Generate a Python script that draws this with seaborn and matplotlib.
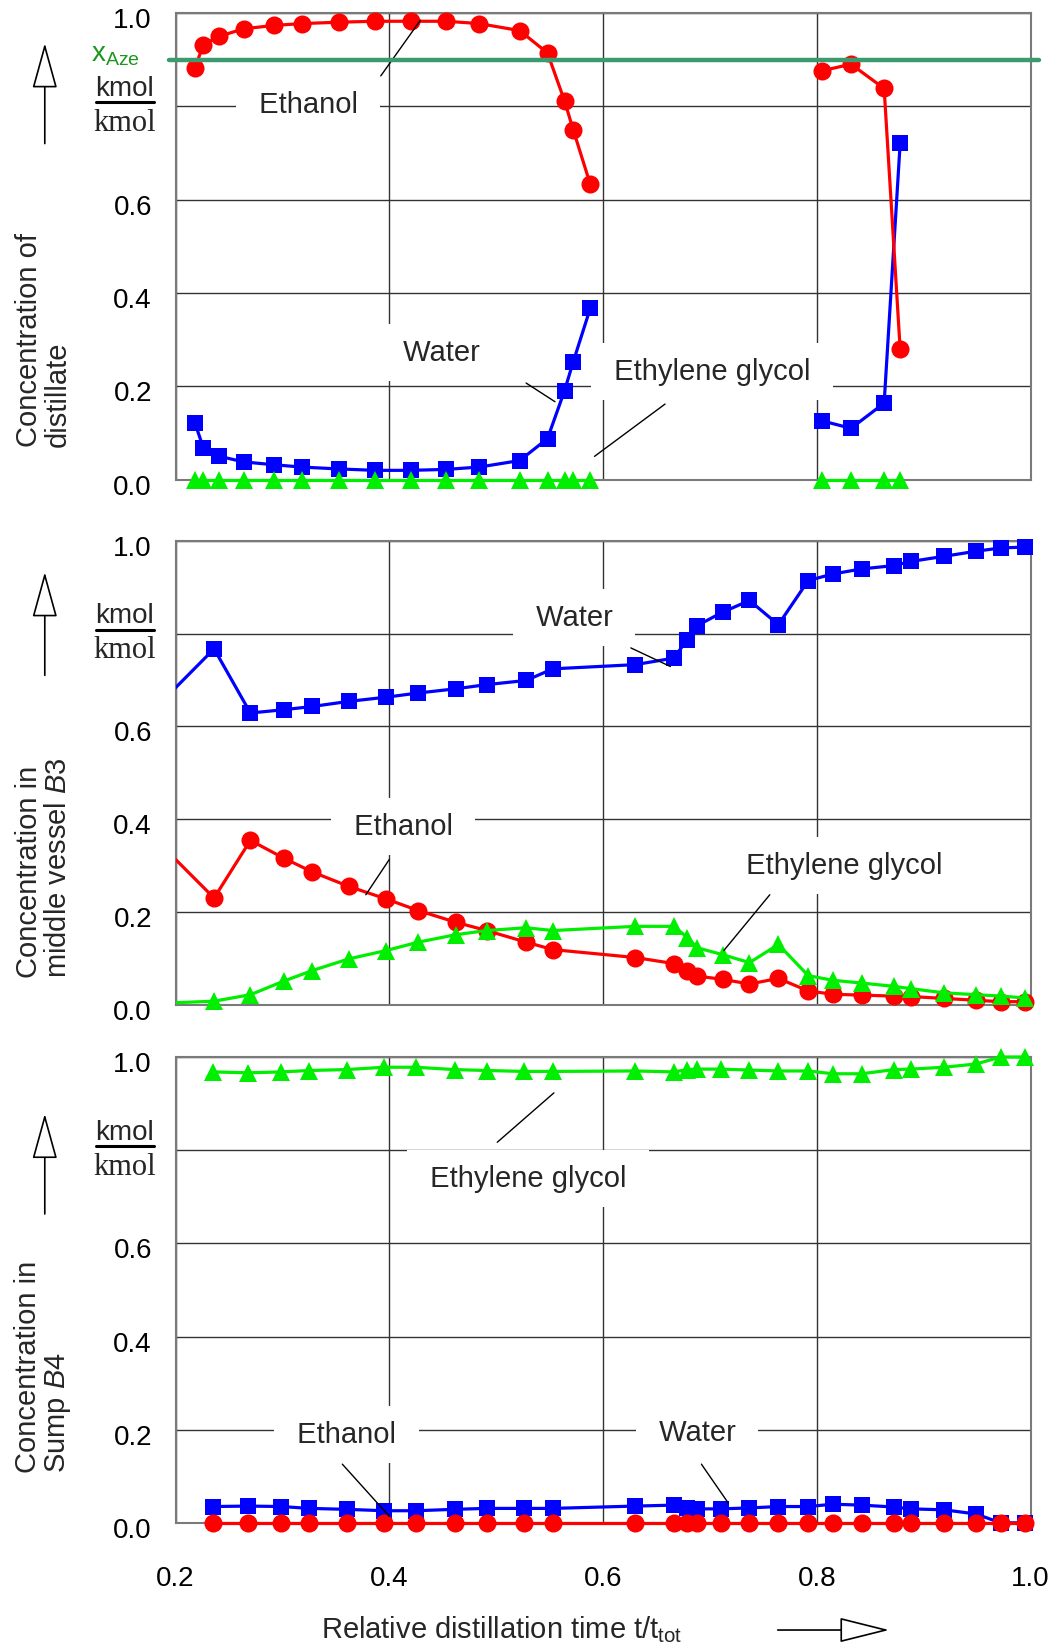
import numpy as np
import pandas as pd
import matplotlib
matplotlib.use("Agg")
import matplotlib.pyplot as plt
from matplotlib.patches import Rectangle
from matplotlib.lines import Line2D
from matplotlib.transforms import ScaledTranslation
import seaborn as sns

# ---- distillate (top panel), two separate runs ----
dist_time_a = [0.218, 0.226, 0.241, 0.264, 0.292, 0.318, 0.353, 0.387, 0.420, 0.453,
               0.484, 0.522, 0.548, 0.564, 0.572, 0.588]
dist_ethanol_a = [0.881, 0.932, 0.950, 0.966, 0.973, 0.977, 0.980, 0.982, 0.982, 0.982,
                  0.977, 0.962, 0.914, 0.811, 0.750, 0.633]
dist_water_a = [0.122, 0.068, 0.050, 0.038, 0.032, 0.027, 0.023, 0.020, 0.020, 0.022,
                0.027, 0.041, 0.088, 0.191, 0.252, 0.367]
dist_glycol_a = [0.0, 0.0, 0.0, 0.0, 0.0, 0.0, 0.0, 0.0, 0.0, 0.0,
                 0.0, 0.0, 0.0, 0.0, 0.0, 0.0]
dist_time_b = [0.805, 0.832, 0.863, 0.878]
dist_ethanol_b = [0.876, 0.890, 0.838, 0.279]
dist_water_b = [0.126, 0.110, 0.164, 0.721]
dist_glycol_b = [0.0, 0.0, 0.0, 0.0]
x_aze = 0.90

# ---- middle vessel B3 ----
b3_time = [0.180, 0.236, 0.270, 0.301, 0.328, 0.362, 0.397, 0.427, 0.462, 0.491,
           0.528, 0.553, 0.630, 0.666, 0.679, 0.688, 0.712, 0.737, 0.764, 0.792,
           0.815, 0.842, 0.872, 0.888, 0.919, 0.949, 0.972, 0.995]
b3_water = [0.637, 0.767, 0.629, 0.636, 0.643, 0.654, 0.663, 0.672, 0.681, 0.690,
            0.699, 0.724, 0.733, 0.747, 0.787, 0.817, 0.846, 0.871, 0.819, 0.914,
            0.928, 0.939, 0.946, 0.955, 0.966, 0.977, 0.984, 0.986]
b3_ethanol = [0.360, 0.231, 0.355, 0.317, 0.287, 0.256, 0.229, 0.204, 0.179, 0.161,
              0.136, 0.120, 0.103, 0.090, 0.074, 0.063, 0.056, 0.046, 0.058, 0.031,
              0.024, 0.022, 0.020, 0.019, 0.015, 0.011, 0.008, 0.008]
b3_glycol = [0.004, 0.009, 0.023, 0.052, 0.075, 0.100, 0.118, 0.136, 0.152, 0.161,
             0.167, 0.161, 0.170, 0.170, 0.146, 0.124, 0.109, 0.092, 0.131, 0.064,
             0.054, 0.048, 0.041, 0.036, 0.027, 0.023, 0.020, 0.016]

# ---- sump B4 ----
b4_time = [0.235, 0.268, 0.299, 0.325, 0.360, 0.395, 0.425, 0.461, 0.491, 0.526,
           0.553, 0.630, 0.666, 0.679, 0.688, 0.710, 0.737, 0.764, 0.792, 0.815,
           0.842, 0.872, 0.888, 0.919, 0.949, 0.972, 0.995]
b4_water = [0.035, 0.036, 0.035, 0.031, 0.029, 0.026, 0.026, 0.029, 0.031, 0.031,
            0.031, 0.036, 0.038, 0.032, 0.030, 0.030, 0.032, 0.035, 0.035, 0.040,
            0.038, 0.034, 0.030, 0.028, 0.019, 0.0, 0.0]
b4_ethanol = [0.0, 0.0, 0.0, 0.0, 0.0, 0.0, 0.0, 0.0, 0.0, 0.0,
              0.0, 0.0, 0.0, 0.0, 0.0, 0.0, 0.0, 0.0, 0.0, 0.0,
              0.0, 0.0, 0.0, 0.0, 0.0, 0.0, 0.0]
b4_glycol = [0.968, 0.966, 0.968, 0.971, 0.973, 0.978, 0.978, 0.973, 0.971, 0.969,
             0.969, 0.970, 0.968, 0.973, 0.974, 0.974, 0.972, 0.970, 0.970, 0.964,
             0.964, 0.973, 0.974, 0.978, 0.985, 1.0, 1.0]

components = ["Water", "Ethanol", "Ethylene glycol"]
colors = {"Water": "#0000FF", "Ethanol": "#FF0000", "Ethylene glycol": "#00EE00"}
marks = {"Water": "s", "Ethanol": "o", "Ethylene glycol": "^"}
msize = {"Water": 11, "Ethanol": 13, "Ethylene glycol": 13}


def to_long(segments):
    frames = []
    for seg, (t, vals) in enumerate(segments):
        for comp, v in zip(components, vals):
            frames.append(pd.DataFrame({"time": t, "conc": v, "component": comp, "segment": seg}))
    return pd.concat(frames, ignore_index=True)


dist_df = to_long([(dist_time_a, [dist_water_a, dist_ethanol_a, dist_glycol_a]),
                   (dist_time_b, [dist_water_b, dist_ethanol_b, dist_glycol_b])])
b3_df = to_long([(b3_time, [b3_water, b3_ethanol, b3_glycol])])
b4_df = to_long([(b4_time, [b4_water, b4_ethanol, b4_glycol])])

sns.set_theme(style="white")
plt.rcParams["font.family"] = ["Liberation Sans", "DejaVu Sans"]
plt.rcParams["mathtext.fontset"] = "custom"
plt.rcParams["mathtext.rm"] = "Liberation Sans"
plt.rcParams["mathtext.it"] = "Liberation Sans:italic"

fig = plt.figure(figsize=(10.61, 16.49), dpi=100)
boxes = [(0.7085, 0.2831), (0.3897, 0.2819), (0.0759, 0.2825)]
axes = [fig.add_axes([0.1655, b, 0.8058, h]) for b, h in boxes]

ylabels = ["Concentration of\ndistillate",
           "Concentration in\nmiddle vessel $\\mathit{B3}$",
           "Concentration in\nSump $\\mathit{B4}$"]
ylabel_y = [0.072, 0.061, 0.11]
arrow_y = [(0.935, 0.720), (0.932, 0.710), (0.878, 0.663)]

# label text, text position, leader start, leader end (data coords)
notes = [
    [("Ethanol", (0.324, 0.804), (0.392, 0.865), (0.429, 0.984)),
     ("Water", (0.449, 0.273), (0.528, 0.207), (0.555, 0.167)),
     ("Ethylene glycol", (0.702, 0.232), (0.658, 0.162), (0.592, 0.050))],
    [("Water", (0.573, 0.835), (0.626, 0.769), (0.663, 0.729)),
     ("Ethanol", (0.413, 0.385), (0.400, 0.314), (0.378, 0.238)),
     ("Ethylene glycol", (0.826, 0.301), (0.756, 0.238), (0.713, 0.118))],
    [("Ethylene glycol", (0.530, 0.740), (0.554, 0.923), (0.501, 0.817)),
     ("Ethanol", (0.360, 0.190), (0.356, 0.126), (0.400, 0.014)),
     ("Water", (0.688, 0.196), (0.692, 0.126), (0.717, 0.043))],
]

label_shift = ScaledTranslation(0, -4 / 100, fig.dpi_scale_trans)

for i, (ax, df) in enumerate(zip(axes, [dist_df, b3_df, b4_df])):
    for comp in components:
        sns.lineplot(data=df[df["component"] == comp], x="time", y="conc",
                     units="segment", estimator=None, sort=False,
                     color=colors[comp], marker=marks[comp], markersize=msize[comp],
                     markeredgewidth=0, linewidth=2.3, legend=False, ax=ax)
    clip = Rectangle((0, -0.05), 1.02, 1.1, transform=ax.transAxes)
    for ln in ax.lines:
        ln.set_clip_path(clip)
        ln.set_zorder(3)

    ax.set_xlim(0.2, 1.0)
    ax.set_ylim(0.0, 1.0)
    ax.set_xticks([0.2, 0.4, 0.6, 0.8, 1.0])
    ax.set_yticks([0.0, 0.2, 0.4, 0.6, 0.8, 1.0])
    ax.set_yticklabels(["0.0", "0.2", "0.4", "0.6", "", "1.0"])
    if i < 2:
        ax.set_xticklabels([])
    else:
        ax.set_xticklabels(["0.2", "0.4", "0.6", "0.8", "1.0"])
    ax.set_xlabel("")
    ax.set_ylabel("")
    ax.grid(True, color="#333333", linewidth=1.0)
    ax.set_axisbelow(True)
    for sp in ax.spines.values():
        sp.set_visible(True)
        sp.set_color("#7a7a7a")
        sp.set_linewidth(1.5)
    ax.tick_params(axis="y", direction="in", length=14, width=1, color="#333333",
                   labelsize=20, pad=17, labelcolor="black")
    ax.tick_params(axis="x", direction="in", length=14, width=1, color="#333333",
                   labelsize=20, pad=30, labelcolor="black")
    for lab in ax.get_yticklabels():
        lab.set_transform(lab.get_transform() + label_shift)

    for text, (tx, ty), (x0, y0), (x1, y1) in notes[i]:
        ax.text(tx, ty, " " + text + " ", fontsize=21, ha="center", va="center", zorder=2,
                bbox=dict(boxstyle="square,pad=0.5", fc="white", ec="none"))
        ax.plot([x0, x1], [y0, y1], color="black", linewidth=1.0, zorder=4)

    # units and axis description
    ax.text(-0.060, 0.84, "kmol", fontsize=20, ha="center", va="center",
            transform=ax.transAxes)
    ax.add_line(Line2D([-0.093, -0.025], [0.808, 0.808], color="black", linewidth=2.2,
                       transform=ax.transAxes, clip_on=False))
    ax.text(-0.060, 0.765, "kmol", fontsize=22, ha="center", va="center",
            family=["Liberation Serif", "DejaVu Serif"], transform=ax.transAxes)
    ax.text(-0.155, ylabel_y[i], ylabels[i], fontsize=21, rotation=90, ha="center",
            va="bottom", multialignment="left", linespacing=1.05, transform=ax.transAxes)
    tip, tail = arrow_y[i]
    ax.annotate("", xy=(-0.153, tip), xytext=(-0.153, tail), xycoords="axes fraction",
                annotation_clip=False,
                arrowprops=dict(arrowstyle="-|>,head_length=2.9,head_width=0.8",
                                mutation_scale=10, fc="white", ec="black", lw=1.2,
                                shrinkA=0, shrinkB=0))

# azeotrope line in distillate panel
top = axes[0]
top.axhline(x_aze, xmin=-0.008, xmax=1.01, color="#3b9a6e", linewidth=3.2,
            clip_on=False, zorder=5)
top.text(-0.070, 0.912, "x$_{\\mathregular{Aze}}$", color="#1c961c", fontsize=20,
         ha="center", va="center", transform=top.transAxes)

fig.text(0.473, 0.0115, "Relative distillation time t/t$_{\\mathregular{tot}}$",
         fontsize=21, ha="center", va="center")
fig.add_artist(matplotlib.patches.FancyArrowPatch(
    (0.733, 0.0109), (0.838, 0.0109), transform=fig.transFigure,
    arrowstyle="-|>,head_length=3.2,head_width=0.8", mutation_scale=10,
    fc="white", ec="black", lw=1.2, shrinkA=0, shrinkB=0))

fig.savefig("out.png", dpi=100, facecolor="white")
